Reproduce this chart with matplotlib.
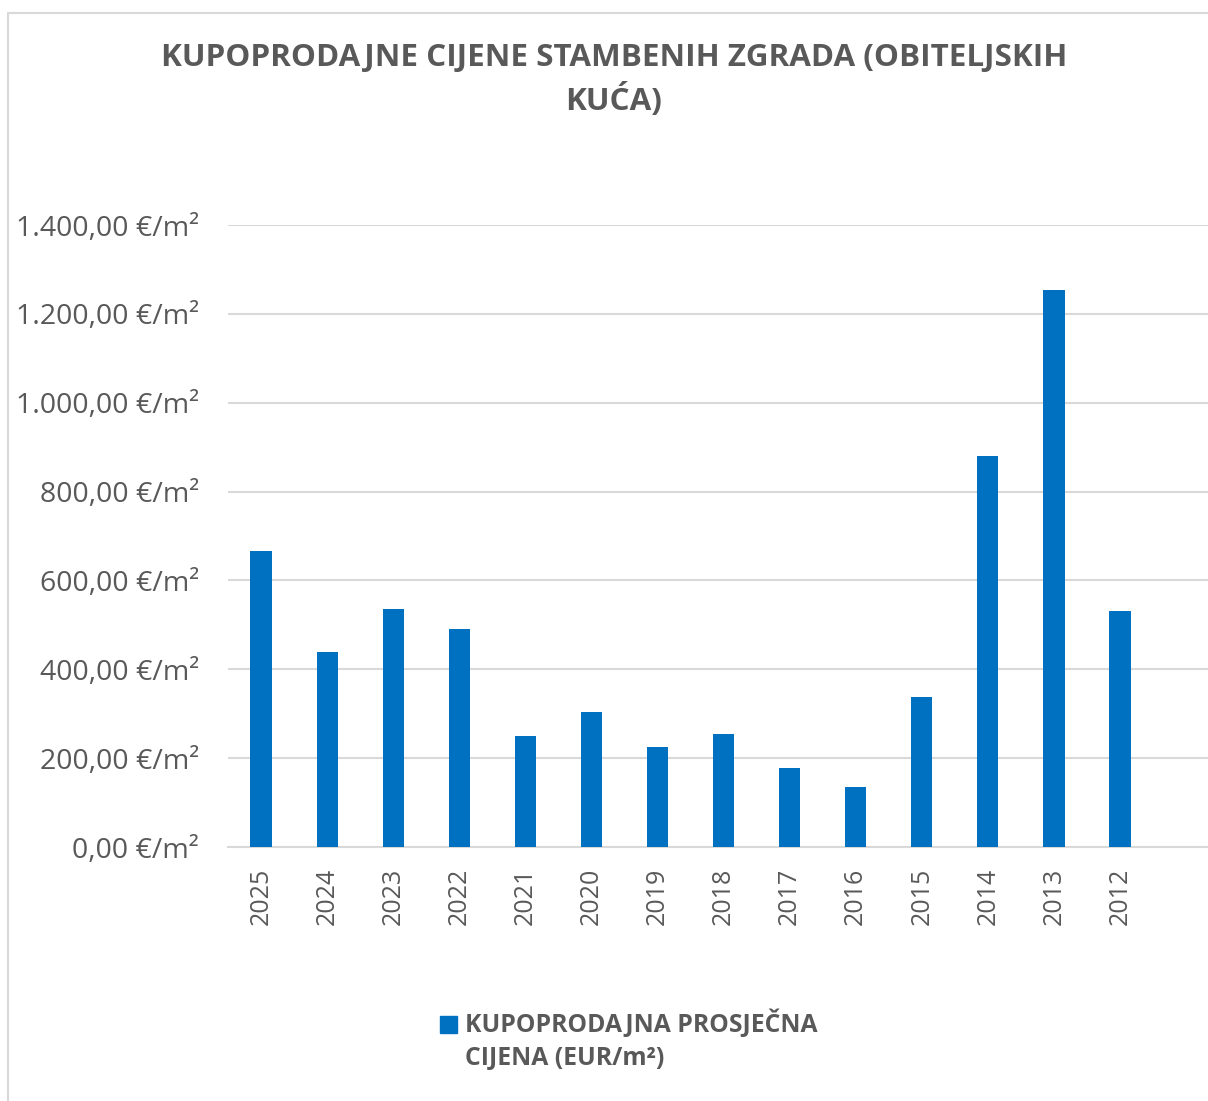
import matplotlib
matplotlib.use("Agg")
import matplotlib.pyplot as plt
from matplotlib.patches import Rectangle

years = ["2025", "2024", "2023", "2022", "2021", "2020", "2019", "2018",
         "2017", "2016", "2015", "2014", "2013", "2012"]
prices = [666, 439, 536, 491, 250, 304, 225, 254, 178, 135, 338, 880, 1254, 531]
yticks = [0, 200, 400, 600, 800, 1000, 1200, 1400]
ytick_labels = ["0,00 €/m²", "200,00 €/m²", "400,00 €/m²", "600,00 €/m²",
                "800,00 €/m²", "1.000,00 €/m²", "1.200,00 €/m²", "1.400,00 €/m²"]
title = "KUPOPRODAJNE CIJENE STAMBENIH ZGRADA (OBITELJSKIH\nKUĆA)"
legend_lines = ["KUPOPRODAJNA PROSJEČNA", "CIJENA (EUR/m²)"]

W, H = 1208, 1101
fig = plt.figure(figsize=(W / 100, H / 100), dpi=100)
plt.rcParams['font.family'] = ['Open Sans', 'DejaVu Sans']
gray = "#595959"
blue = "#0070C0"

# outer chart border (cropped at right and bottom)
fig.patches.append(Rectangle((8 / W, -0.2), 2.0, (H - 13) / H + 0.2, transform=fig.transFigure,
                             fill=False, edgecolor="#d9d9d9", linewidth=1.5))

left, right = 228 / W, 1.0
bottom, top = (H - 847) / H, (H - 225) / H
ax = fig.add_axes([left, bottom, right - left, top - bottom])
x = list(range(len(years)))
ax.bar(x, prices, width=0.32, color=blue, zorder=3)
slot = (1120 - 261) / 13
ax.set_xlim(-0.5, -0.5 + (W - 228) / slot)
ax.set_ylim(0, 1400)
ax.set_yticks(yticks)
ax.set_yticklabels(ytick_labels, fontsize=20.5, color=gray)
ax.set_xticks(x)
ax.set_xticklabels(years, rotation=90, fontsize=18, color=gray)
ax.tick_params(axis='y', length=0, pad=21)
ax.tick_params(axis='x', length=0, pad=15)
ax.grid(axis='y', color="#d9d9d9", linewidth=1.5, zorder=0)
for s in ["top", "right", "left"]:
    ax.spines[s].set_visible(False)
ax.spines["bottom"].set_color("#d9d9d9")
ax.spines["bottom"].set_linewidth(1.5)

fig.text(614 / W, 1 - 80 / H, title, ha="center", va="center", fontsize=22.6,
         fontweight="bold", color=gray, linespacing=1.38)

# legend
fig.patches.append(Rectangle((440 / W, 1 - 1033 / H), 17 / W, 17 / H,
                             transform=fig.transFigure, color=blue))
fig.text(465 / W, 1 - 1024 / H, legend_lines[0], ha="left", va="center",
         fontsize=17.8, fontweight="bold", color=gray)
fig.text(465 / W, 1 - 1058 / H, legend_lines[1], ha="left", va="center",
         fontsize=17.8, fontweight="bold", color=gray)

fig.savefig("out.png", dpi=100)
